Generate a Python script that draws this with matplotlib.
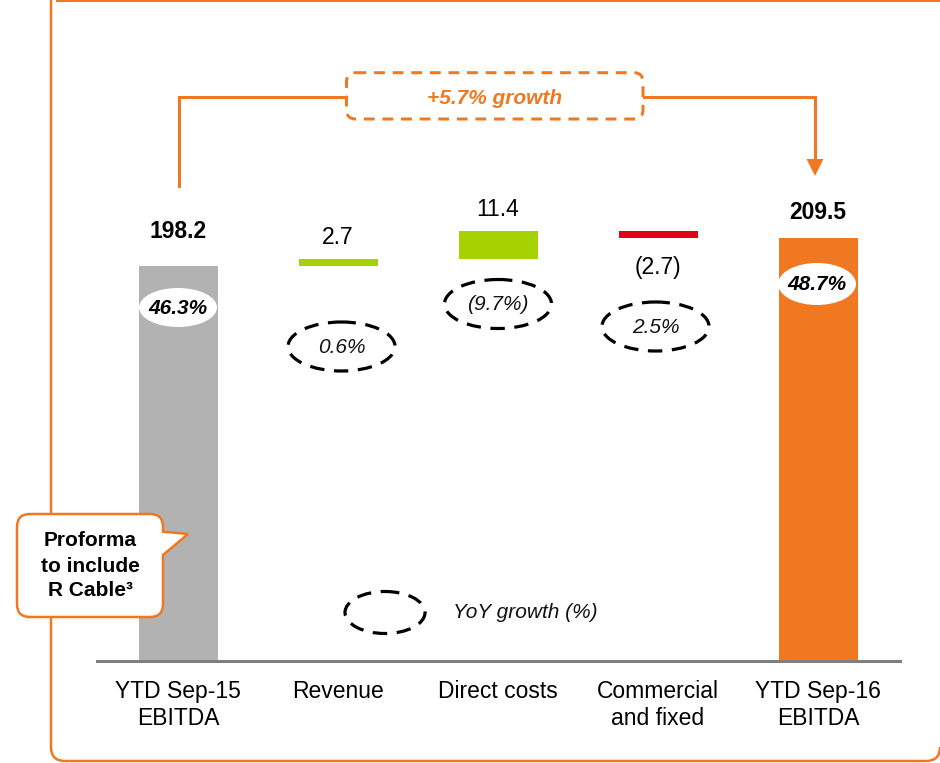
import matplotlib
matplotlib.use("Agg")
import matplotlib.pyplot as plt
from matplotlib.patches import Ellipse, FancyBboxPatch, Polygon, PathPatch
from matplotlib.path import Path
from matplotlib.lines import Line2D
from matplotlib.transforms import Affine2D

plt.rcParams["font.family"] = ["Liberation Sans", "DejaVu Sans"]

# ---- data ------------------------------------------------------------
categories = ["YTD Sep-15\nEBITDA", "Revenue", "Direct costs",
              "Commercial\nand fixed", "YTD Sep-16\nEBITDA"]
start_total = 198.2
deltas = [2.7, 11.4, -2.7]
end_total = 209.5
value_labels = ["198.2", "2.7", "11.4", "(2.7)", "209.5"]
margins = ["46.3%", "48.7%"]
yoy_growth = ["0.6%", "(9.7%)", "2.5%"]
growth_note = "+5.7% growth"

# ---- style -----------------------------------------------------------
W, H = 940, 763
ORANGE = "#F07820"
GREY_BAR = "#B2B2B2"
GREEN = "#A5D200"
RED = "#E2001A"
BASE_GREY = "#7F7F7F"

AXIS_FLOOR = 37.5        # value where the (broken) value axis starts
PX_PER_UNIT = 2.456      # vertical scale of the value axis
BASE_ROW = 660.5         # pixel row of the baseline
X0_PX, STEP_PX = 178, 160

fig = plt.figure(figsize=(W / 100, H / 100), dpi=100)
fig.patch.set_facecolor("white")

# pixel-space transform (origin top-left, y pointing down)
PX = Affine2D().scale(1 / W, -1 / H).translate(0, 1) + fig.transFigure


def pt(px):
    return px * 0.72


# main axes: spans from the baseline to the top of the figure
ax = fig.add_axes([0, (H - BASE_ROW) / H, 1, BASE_ROW / H])
ax.set_xlim(-X0_PX / STEP_PX, (W - X0_PX) / STEP_PX)
ax.set_ylim(AXIS_FLOOR, AXIS_FLOOR + BASE_ROW / PX_PER_UNIT)
ax.axis("off")
ax.patch.set_alpha(0)

# ---- waterfall bars --------------------------------------------------
bar_w = 79 / STEP_PX
running = start_total
bottoms, heights, colors = [0], [start_total], [GREY_BAR]
for d in deltas:
    bottoms.append(running if d >= 0 else running + d)
    heights.append(abs(d))
    colors.append(GREEN if d >= 0 else RED)
    running += d
bottoms.append(0)
heights.append(end_total)
colors.append(ORANGE)

xs = list(range(len(categories)))
ax.bar(xs, heights, bottom=bottoms, width=bar_w, color=colors,
       linewidth=0, zorder=2)

# value labels (baseline offsets in pixels from bar edge)
label_specs = [
    (bottoms[0] + heights[0], 28, True),
    (bottoms[1] + heights[1], 15, False),
    (bottoms[2] + heights[2], 15, False),
    (bottoms[3], -36.5, False),
    (bottoms[4] + heights[4], 19, True),
]
for i, (yv, off, bold) in enumerate(label_specs):
    ax.annotate(value_labels[i], xy=(i, yv), xytext=(0, off),
                textcoords="offset pixels", ha="center", va="baseline",
                fontsize=16.5, fontweight="bold" if bold else "normal",
                color="black", annotation_clip=False, zorder=5)

# baseline
fig.add_artist(Line2D([97, 900], [661, 661], transform=PX,
                      color=BASE_GREY, lw=pt(3), zorder=3))

# category labels
for i, c in enumerate(categories):
    fig.text(X0_PX + STEP_PX * i, 680, c, transform=PX, ha="center",
             va="top", fontsize=16.5, linespacing=1.2, color="black")

# ---- margin ellipses on total bars -----------------------------------
for (cx, cy, h), txt in zip([(178, 307.5, 39), (817, 284, 42)], margins):
    fig.add_artist(Ellipse((cx, cy), 78, h, transform=PX, fc="white",
                           ec="none", zorder=4))
    fig.text(cx, cy + 1, txt, transform=PX, ha="center", va="center",
             fontsize=15, fontweight="bold", fontstyle="italic", zorder=5)

# ---- YoY growth dashed ellipses --------------------------------------
dash = (0, (4.5, 3))
for (cx, cy), txt in zip([(341.5, 346.5), (498, 304), (655.5, 326.5)],
                         yoy_growth):
    fig.add_artist(Ellipse((cx, cy), 107, 49, transform=PX, fill=False,
                           ec="black", lw=pt(3.2), ls=dash, zorder=4))
    fig.text(cx, cy + 1, txt, transform=PX, ha="center", va="center",
             fontsize=15, fontstyle="italic", color="#111111", zorder=5)

# legend for the dashed ellipse
fig.add_artist(Ellipse((385, 612.5), 80, 42, transform=PX, fill=False,
                       ec="black", lw=pt(3.2), ls=dash, zorder=4))
fig.text(453, 613, "YoY growth (%)", transform=PX, ha="left", va="center",
         fontsize=15, fontstyle="italic", color="#111111")

# ---- growth bracket ---------------------------------------------------
conn_lw = pt(3)
fig.add_artist(Line2D([178.6, 178.6, 346.5], [186, 96.7, 96.7],
                      transform=PX, color=ORANGE, lw=conn_lw,
                      solid_joinstyle="miter"))
fig.add_artist(Line2D([643, 815, 815], [96.7, 96.7, 162],
                      transform=PX, color=ORANGE, lw=conn_lw,
                      solid_joinstyle="miter"))
fig.add_artist(Polygon([(806.5, 159), (823.5, 159), (815, 176)],
                       closed=True, transform=PX, fc=ORANGE, ec="none"))
fig.add_artist(FancyBboxPatch((346.5, 72.7), 296.5, 46.3,
                              boxstyle="round,pad=0,rounding_size=9",
                              transform=PX, fc="white", ec=ORANGE,
                              lw=pt(3), ls=(0, (3.6, 2.6)), zorder=3))
fig.text(495, 99, growth_note, transform=PX, ha="center", va="center",
         fontsize=15, fontweight="bold", fontstyle="italic", color=ORANGE,
         zorder=4)

# ---- outer frame (left, bottom and the lower-right corner) -----------
fr = 14
frame_verts = [(51, 0), (51, 761 - fr), (51, 761), (51 + fr, 761),
               (940 - fr, 761), (940, 761), (940, 761 - fr)]
frame_codes = [Path.MOVETO, Path.LINETO, Path.CURVE3, Path.CURVE3,
               Path.LINETO, Path.CURVE3, Path.CURVE3]
fig.add_artist(PathPatch(Path(frame_verts, frame_codes), transform=PX,
                         fill=False, ec=ORANGE, lw=pt(2.5), zorder=1))
fig.add_artist(Line2D([57, W], [0.6, 0.6], transform=PX, color=ORANGE,
                      lw=pt(2), zorder=1))

# ---- callout ---------------------------------------------------------
x0, x1, y0, y1, r = 17, 163, 514, 617, 13
verts = [
    (x0 + r, y0), (x1 - r, y0), (x1, y0), (x1, y0 + r),
    (x1, 531.7), (188, 534), (x1, 555), (x1, y1 - r),
    (x1, y1), (x1 - r, y1), (x0 + r, y1), (x0, y1), (x0, y1 - r),
    (x0, y0 + r), (x0, y0), (x0 + r, y0), (x0 + r, y0),
]
codes = [Path.MOVETO, Path.LINETO, Path.CURVE3, Path.CURVE3,
         Path.LINETO, Path.LINETO, Path.LINETO, Path.LINETO,
         Path.CURVE3, Path.CURVE3, Path.LINETO, Path.CURVE3, Path.CURVE3,
         Path.LINETO, Path.CURVE3, Path.CURVE3, Path.CLOSEPOLY]
fig.add_artist(PathPatch(Path(verts, codes), transform=PX, fc="white",
                         ec=ORANGE, lw=pt(2.5), zorder=6))
fig.text(90, 566, "Proforma\nto include\nR Cable\u00b3", transform=PX,
         ha="center", va="center", fontsize=15, fontweight="bold",
         linespacing=1.4, zorder=7)

fig.savefig("out.png", dpi=100, facecolor="white")
